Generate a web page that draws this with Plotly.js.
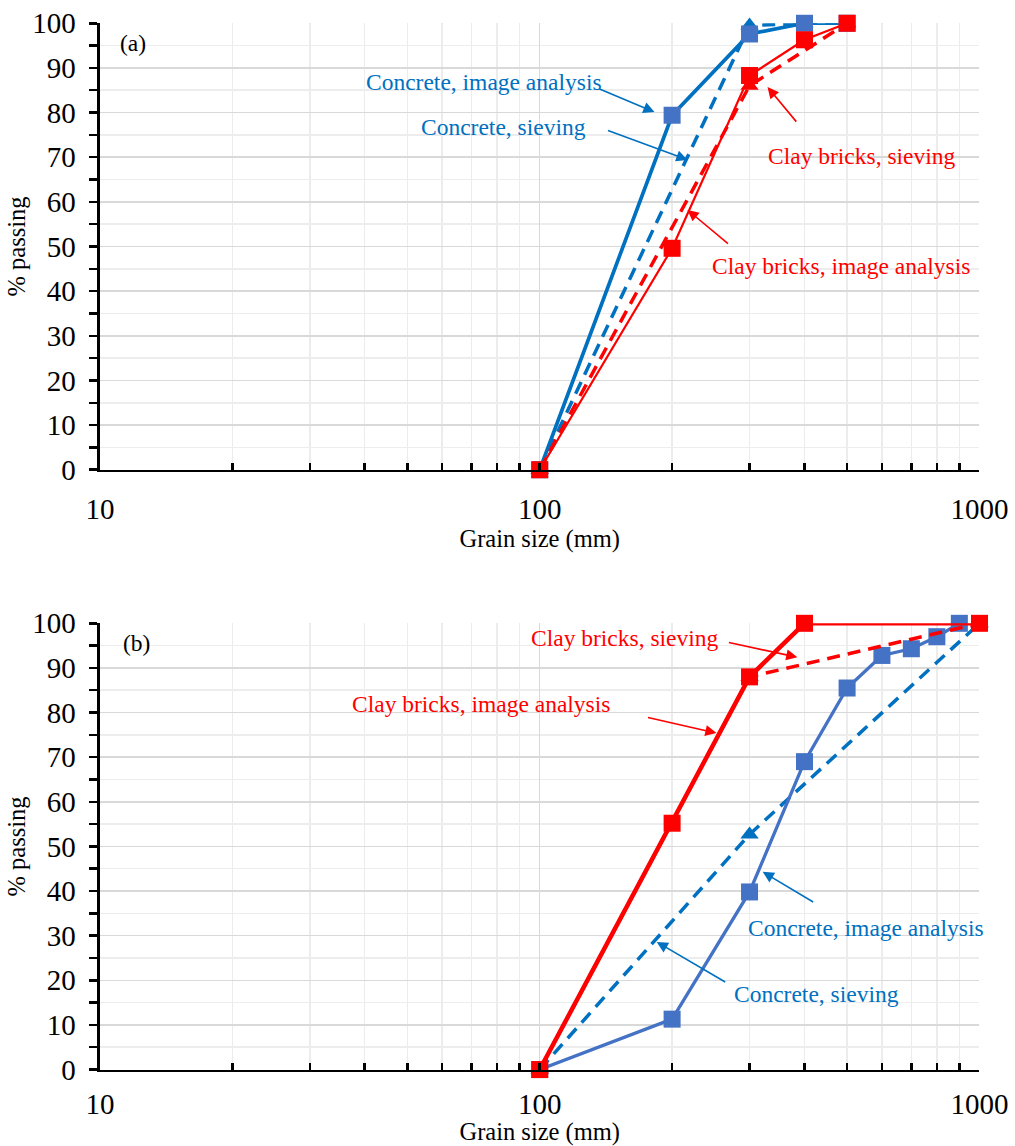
<!DOCTYPE html>
<html>
<head>
<meta charset="utf-8">
<script src="https://cdn.plot.ly/plotly-3.0.1.min.js"></script>
<style>html,body{margin:0;padding:0;background:#fff;}#chart{width:1015px;height:1146px;}</style>
</head>
<body>
<div id="chart"></div>
<script>
// ---------- Data: panel (a) ----------
const a_concImg_x = [100, 200, 300, 400, 500];
const a_concImg_y = [0, 79.4, 97.6, 100, 100];
const a_concSiev_x = [100, 300, 400, 500];
const a_concSiev_y = [0, 99.5, 100, 100];
const a_clayImg_x = [100, 200, 300, 400, 500];
const a_clayImg_y = [0, 49.6, 88.3, 96.3, 100];
const a_claySiev_x = [100, 300, 500];
const a_claySiev_y = [0, 86, 100];

// ---------- Data: panel (b) ----------
const b_concImg_x = [100, 200, 300, 400, 500, 600, 700, 800, 900];
const b_concImg_y = [0, 11.3, 39.8, 69, 85.5, 92.8, 94.3, 97, 100];
const b_concSiev_x = [100, 300, 1000];
const b_concSiev_y = [0, 52.7, 100];
const b_clayImg_x = [100, 200, 300, 400, 1000];
const b_clayImg_y = [0, 55.2, 88, 100, 100];
const b_claySiev_x = [100, 300, 1000];
const b_claySiev_y = [0, 88, 100];

// ---------- Axis ticks ----------
const xTickVals = [10, 100, 1000];
const xTickText = ['10', '100', '1000'];
const xMinorVals = [20, 30, 40, 50, 60, 70, 80, 90, 200, 300, 400, 500, 600, 700, 800, 900];
const panelLabels = ['(a)', '(b)'];
const seriesNames = ['Concrete, image analysis', 'Concrete, sieving', 'Clay bricks, image analysis', 'Clay bricks, sieving'];

const BLUE = '#0070C0', BLUE2 = '#4472C4', RED = '#FF0000';
const FONT = 'Liberation Serif';

function line(x, y, name, xa, ya, color, width, dash, symbol, mcolor) {
  return {
    x: x, y: y, name: name, xaxis: xa, yaxis: ya, type: 'scatter', mode: 'lines+markers',
    line: {color: color, width: width, dash: dash},
    marker: {symbol: symbol, size: symbol === 'square' ? 17 : 16, color: mcolor || color, line: {width: 0}},
    cliponaxis: false
  };
}

const traces = [
  line(a_concSiev_x, a_concSiev_y, seriesNames[1], 'x', 'y', BLUE, 3.5, '13px,8px', 'triangle-up'),
  line(a_concImg_x, a_concImg_y, seriesNames[0], 'x', 'y', BLUE, 3.7, 'solid', 'square', BLUE2),
  line(a_claySiev_x, a_claySiev_y, seriesNames[3], 'x', 'y', RED, 3.5, '13px,8px', 'triangle-up'),
  line(a_clayImg_x, a_clayImg_y, seriesNames[2], 'x', 'y', RED, 2.2, 'solid', 'square'),
  line(b_concSiev_x, b_concSiev_y, seriesNames[1], 'x2', 'y2', BLUE, 3.5, '13px,8px', 'triangle-up'),
  line(b_concImg_x, b_concImg_y, seriesNames[0], 'x2', 'y2', BLUE2, 3.3, 'solid', 'square', BLUE2),
  line(b_claySiev_x, b_claySiev_y, seriesNames[3], 'x2', 'y2', RED, 3.5, '13px,8px', 'triangle-up'),
  line(b_clayImg_x, b_clayImg_y, seriesNames[2], 'x2', 'y2', RED, 4.5, 'solid', 'square')
];

function xaxis(anchor, lblOff) {
  return {
    type: 'log', range: [1, 3], domain: [0.0985, 0.965], anchor: anchor,
    tickmode: 'array', tickvals: xTickVals, ticktext: xTickText,
    ticks: 'inside', ticklen: 7, tickwidth: 2.5, tickcolor: '#000',
    ticklabelstandoff: lblOff,
    showline: true, linecolor: '#000', linewidth: 2.5,
    showgrid: true, gridcolor: '#d9d9d9', gridwidth: 1.5,
    minor: {tickmode: 'array', tickvals: xMinorVals, ticks: 'inside', ticklen: 7, tickwidth: 2.5, tickcolor: '#000',
            showgrid: true, gridcolor: '#ececec', gridwidth: 1.5},
    tickfont: {family: FONT, size: 29, color: '#000'},
    title: {text: 'Grain size (mm)', font: {family: FONT, size: 24.5, color: '#000'}, standoff: 0},
    zeroline: false, fixedrange: true
  };
}
function yaxis(anchor, dom) {
  return {
    range: [0, 100], domain: dom, anchor: anchor,
    tickmode: 'linear', tick0: 0, dtick: 10,
    ticks: 'outside', ticklen: 8, tickwidth: 2.5, tickcolor: '#000',
    ticklabelstandoff: 8,
    showline: true, linecolor: '#000', linewidth: 2.5,
    showgrid: true, gridcolor: '#d9d9d9', gridwidth: 1.5,
    minor: {dtick: 5, ticks: 'outside', ticklen: 8, tickwidth: 2.5, tickcolor: '#000',
            showgrid: true, gridcolor: '#ededed', gridwidth: 1.5},
    tickfont: {family: FONT, size: 29, color: '#000'},
    title: {text: '% passing', font: {family: FONT, size: 24.5, color: '#000'}, standoff: 0},
    zeroline: false, fixedrange: true
  };
}

function txt(xref, yref, x, y, text, color) {
  return {xref: xref, yref: yref, x: x, y: y, text: text, showarrow: false,
          xanchor: 'center', yanchor: 'middle', font: {family: FONT, size: 23.5, color: color}};
}
function arr(xref, yref, x, y, ax, ay, color) {
  return {xref: xref, yref: yref, x: x, y: y, ax: ax, ay: ay, text: '', showarrow: true,
          arrowhead: 2, arrowsize: 1.4, arrowwidth: 1.6, arrowcolor: color, standoff: 0, startstandoff: 0};
}

const annotations = [
  // panel (a)
  txt('x', 'y', 1.873, 86.8, seriesNames[0], BLUE),
  arr('x', 'y', 2.261, 80.1, -57, -24, BLUE),
  txt('x', 'y', 1.918, 76.7, seriesNames[1], BLUE),
  arr('x', 'y', 2.336, 69.4, -81, -30, BLUE),
  txt('x', 'y', 2.732, 70.2, seriesNames[3], RED),
  arr('x', 'y', 2.518, 85.7, 30, 36, RED),
  txt('x', 'y', 2.684, 45.6, seriesNames[2], RED),
  arr('x', 'y', 2.336, 58.2, 42, 35, RED),
  {xref: 'x', yref: 'y', x: 1.075, y: 95.5, text: panelLabels[0], showarrow: false,
   xanchor: 'center', yanchor: 'middle', font: {family: FONT, size: 23.5, color: '#000'}},
  // panel (b)
  txt('x2', 'y2', 2.195, 96.6, seriesNames[3], RED),
  arr('x2', 'y2', 2.586, 92.4, -70, -15, RED),
  txt('x2', 'y2', 1.866, 81.9, seriesNames[2], RED),
  arr('x2', 'y2', 2.402, 75.4, -70, -16, RED),
  txt('x2', 'y2', 2.743, 31.8, seriesNames[0], BLUE),
  arr('x2', 'y2', 2.507, 44.3, 52, 31, BLUE),
  txt('x2', 'y2', 2.630, 17.0, seriesNames[1], BLUE),
  arr('x2', 'y2', 2.266, 28.6, 70, 41, BLUE),
  {xref: 'x2', yref: 'y2', x: 1.082, y: 95.5, text: panelLabels[1], showarrow: false,
   xanchor: 'center', yanchor: 'middle', font: {family: FONT, size: 23.5, color: '#000'}}
];

const layout = {
  width: 1015, height: 1146,
  margin: {l: 0, r: 0, t: 0, b: 0, pad: 0},
  paper_bgcolor: '#fff', plot_bgcolor: '#fff',
  showlegend: false,
  font: {family: FONT, color: '#000'},
  xaxis: xaxis('y', 12),
  yaxis: yaxis('x', [0.5901, 0.9797]),
  xaxis2: xaxis('y2', 7),
  yaxis2: yaxis('x2', [0.0667, 0.4561]),
  annotations: annotations
};

Plotly.newPlot('chart', traces, layout, {staticPlot: true, displayModeBar: false});
</script>
</body>
</html>
